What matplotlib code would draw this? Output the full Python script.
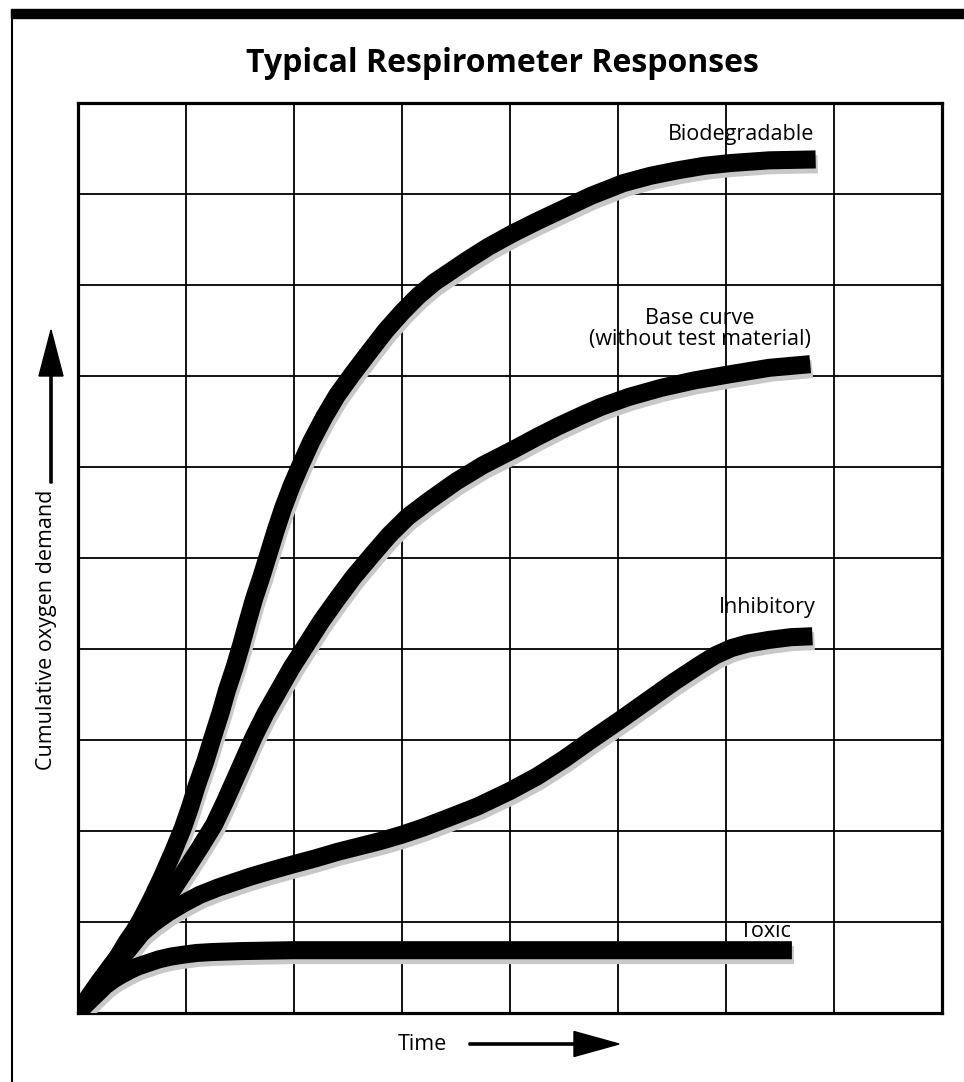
import matplotlib
matplotlib.use("Agg")
import matplotlib.pyplot as plt
from matplotlib.patches import FancyArrow, Rectangle
from matplotlib.lines import Line2D
from matplotlib.transforms import IdentityTransform, offset_copy

plt.rcParams['font.family'] = ['Open Sans', 'DejaVu Sans']

# curves (x = time in grid columns, y = grid rows)
bio_x = [0, 0.08, 0.15, 0.23, 0.3, 0.38, 0.45, 0.52, 0.58, 0.68, 0.78, 0.88, 0.97, 1.04,
         1.1, 1.18, 1.25, 1.32, 1.38, 1.45, 1.51, 1.57, 1.63, 1.7, 1.76, 1.83, 1.9, 1.98,
         2.06, 2.16, 2.28, 2.4, 2.54, 2.7, 2.85, 3.0, 3.15, 3.3, 3.45, 3.6, 3.8, 4.03,
         4.25, 4.5, 4.75, 5.05, 5.3, 5.55, 5.8, 6.04, 6.4, 6.83]
bio_y = [0, 0.12, 0.25, 0.38, 0.5, 0.64, 0.78, 0.9, 1.02, 1.25, 1.5, 1.77, 2.03, 2.27,
         2.5, 2.77, 3.04, 3.3, 3.55, 3.8, 4.04, 4.3, 4.55, 4.8, 5.03, 5.3, 5.55, 5.8,
         6.02, 6.28, 6.55, 6.79, 7.02, 7.27, 7.5, 7.7, 7.88, 8.03, 8.15, 8.27, 8.42, 8.57,
         8.7, 8.84, 8.98, 9.12, 9.2, 9.26, 9.31, 9.34, 9.37, 9.38]

base_x = [0, 0.1, 0.2, 0.3, 0.4, 0.55, 0.7, 0.85, 1.0, 1.13, 1.26, 1.36, 1.45, 1.54, 1.63,
          1.74, 1.86, 1.98, 2.11, 2.25, 2.4, 2.55, 2.72, 2.88, 3.05, 3.25, 3.5, 3.75,
          4.03, 4.25, 4.45, 4.65, 4.84, 5.1, 5.4, 5.7, 6.04, 6.4, 6.78]
base_y = [0, 0.15, 0.3, 0.45, 0.6, 0.82, 1.05, 1.31, 1.58, 1.82, 2.07, 2.32, 2.56, 2.8, 3.04,
          3.3, 3.55, 3.8, 4.04, 4.3, 4.55, 4.79, 5.03, 5.25, 5.45, 5.63, 5.84, 6.02,
          6.19, 6.33, 6.45, 6.56, 6.66, 6.77, 6.87, 6.95, 7.02, 7.09, 7.13]

inh_x = [0, 0.1, 0.2, 0.32, 0.45, 0.58, 0.7, 0.83, 0.97, 1.13, 1.3, 1.45, 1.6, 1.8, 1.98,
         2.2, 2.4, 2.6, 2.8, 3.0, 3.2, 3.42, 3.7, 4.0, 4.25, 4.5, 4.75, 5.02, 5.27, 5.52,
         5.75, 5.9, 6.05, 6.2, 6.4, 6.6, 6.8]
inh_y = [0, 0.18, 0.35, 0.54, 0.72, 0.87, 0.99, 1.1, 1.2, 1.3, 1.38, 1.44, 1.5, 1.57, 1.63,
         1.7, 1.77, 1.83, 1.89, 1.96, 2.04, 2.14, 2.27, 2.44, 2.6, 2.79, 3.0, 3.22, 3.43, 3.64,
         3.82, 3.93, 4.01, 4.06, 4.1, 4.13, 4.14]

tox_x = [0, 0.06, 0.12, 0.19, 0.25, 0.33, 0.4, 0.48, 0.55, 0.65, 0.75, 0.86, 0.97, 1.1,
         1.25, 1.5, 1.98, 3.0, 4.0, 5.0, 6.61]
tox_y = [0, 0.08, 0.15, 0.23, 0.3, 0.37, 0.42, 0.47, 0.51, 0.55, 0.59, 0.62, 0.64, 0.66,
         0.67, 0.68, 0.69, 0.69, 0.69, 0.69, 0.69]

curves = [(bio_x, bio_y), (base_x, base_y), (inh_x, inh_y), (tox_x, tox_y)]

fig = plt.figure(figsize=(9.64, 10.82), dpi=100)
ax = fig.add_axes([78 / 964, 69 / 1082, 864 / 964, 910 / 1082])
ax.set_xlim(0, 8)
ax.set_ylim(0, 10)
ax.set_xticks(range(9))
ax.set_yticks(range(11))
ax.tick_params(length=0, labelbottom=False, labelleft=False)
ax.grid(True, color='black', lw=1.3)
ax.set_axisbelow(True)
for s in ax.spines.values():
    s.set_linewidth(2.3)

shadow = offset_copy(ax.transData, fig=fig, x=1.5, y=-3.5, units='points')
for x, y in curves:
    ax.plot(x, y, color='#c8c8c8', lw=13, solid_capstyle='butt',
            solid_joinstyle='round', transform=shadow, zorder=3)
    ax.plot(x, y, color='black', lw=13, solid_capstyle='butt',
            solid_joinstyle='round', zorder=4)

lab = dict(fontsize=15.5, color='black', zorder=5)
ax.text(6.82, 9.59, 'Biodegradable', ha='right', va='baseline', **lab)
ax.text(5.76, 7.34, 'Base curve\n(without test material)', ha='center', va='baseline',
        multialignment='center', linespacing=1.0, **lab)
ax.text(6.83, 4.40, 'Inhibitory', ha='right', va='baseline', **lab)
ax.text(6.61, 0.835, 'Toxic', ha='right', va='baseline', **lab)

fig.text(502 / 964, 1 - 72 / 1082, 'Typical Respirometer Responses', ha='center',
         va='baseline', fontsize=23, fontweight='bold')
fig.text(398 / 964, 1 - 1050 / 1082, 'Time', ha='left', va='baseline', fontsize=15.5)
fig.text(47 / 964, 1 - 490 / 1082, 'Cumulative oxygen demand', rotation=90,
         ha='center', va='top', fontsize=15.5)

px = IdentityTransform()
fig.patches.append(FancyArrow(469, 1082 - 1044, 150, 0, width=2.2, head_width=25,
                              head_length=45, length_includes_head=True,
                              color='black', transform=px))
fig.patches.append(FancyArrow(51, 1082 - 483, 0, 153, width=2.2, head_width=24,
                              head_length=46, length_includes_head=True,
                              color='black', transform=px))

# page border from the scan
fig.patches.append(Rectangle((11, 1082 - 18), 953, 9, color='black', transform=px))
fig.lines.append(Line2D([12, 12], [0, 1082 - 10], color='black', lw=1.5, transform=px))

fig.savefig('out.png', dpi=100)
